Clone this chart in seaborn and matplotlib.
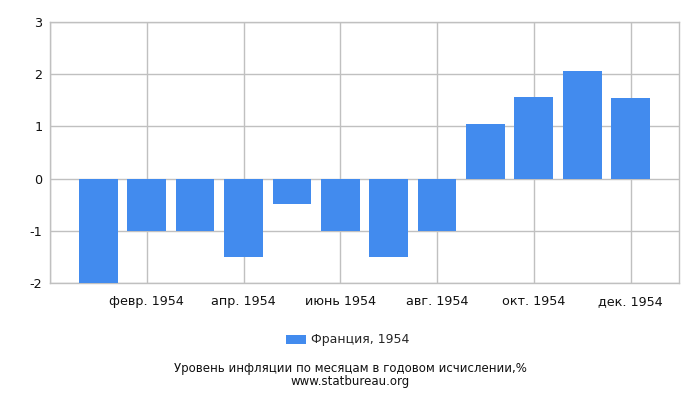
import numpy as np
import pandas as pd
import matplotlib
matplotlib.use("Agg")
import matplotlib.pyplot as plt
import seaborn as sns

months = ["янв. 1954", "февр. 1954", "март 1954", "апр. 1954", "май 1954", "июнь 1954",
          "июль 1954", "авг. 1954", "сент. 1954", "окт. 1954", "нояб. 1954", "дек. 1954"]
values = [-2.0, -1.0, -1.0, -1.51, -0.49, -1.0, -1.51, -1.01, 1.04, 1.56, 2.06, 1.54]
series_name = "Франция, 1954"
y_ticks = [-2, -1, 0, 1, 2, 3]

df = pd.DataFrame({"month": months, "value": values})

sns.set_style("white")
plt.rcParams['font.family'] = ['DejaVu Sans']

fig = plt.figure(figsize=(7, 4), dpi=100)
ax = fig.add_axes([0.0714, 0.2925, 0.8986, 0.6525])

sns.barplot(data=df, x="month", y="value", color="#428bee", saturation=1,
            width=0.8, label=series_name, ax=ax, zorder=3, linewidth=0,
            edgecolor="none")

ax.set_xlim(-1, 12)
ax.set_ylim(-2, 3)
ax.set_yticks(y_ticks)
ax.set_yticklabels([str(t) for t in y_ticks])
tick_pos = [-1] + list(range(1, 12, 2))
ax.set_xticks(tick_pos)
ax.set_xticklabels([""] + [months[i] for i in range(1, 12, 2)])
ax.grid(True, color="#c0c0c0", linewidth=1, zorder=0)
ax.set_axisbelow(True)
for s in ax.spines.values():
    s.set_color("#c0c0c0")
    s.set_linewidth(1)
ax.tick_params(axis="both", length=4, width=1, color="#333333", labelsize=9.2,
               labelcolor="#111111", pad=1.5)
ax.tick_params(axis="x", pad=4.5)
ax.set_xlabel("")
ax.set_ylabel("")

ax.legend(loc="center", bbox_to_anchor=(0.497, 0.15), bbox_transform=fig.transFigure,
          frameon=False, fontsize=9, handlelength=1.6, handleheight=0.7,
          handletextpad=0.4)

fig.text(0.5, 0.062, "Уровень инфляции по месяцам в годовом исчислении,%\nwww.statbureau.org",
         ha="center", va="center", fontsize=8.5, color="#111111", linespacing=0.95)

fig.savefig("out.png", dpi=100)
